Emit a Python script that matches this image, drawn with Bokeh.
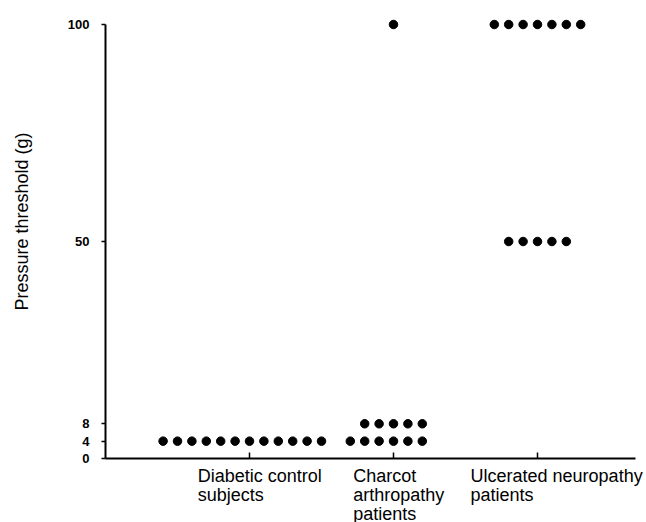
import math
from bokeh.plotting import figure
from bokeh.models import Range1d, FixedTicker, Label
from bokeh.embed import file_html
from bokeh.resources import INLINE

# ---- data ----
categories = ["Diabetic control subjects", "Charcot arthropathy patients", "Ulcerated neuropathy patients"]
category_labels = ["Diabetic control\nsubjects", "Charcot\narthropathy\npatients", "Ulcerated neuropathy\npatients"]
diabetic_thresholds = [4]
diabetic_counts = [12]
charcot_thresholds = [4, 8, 100]
charcot_counts = [6, 5, 1]
ulcerated_thresholds = [50, 100]
ulcerated_counts = [5, 7]
y_ticks = [0, 4, 8, 50, 100]
y_title = "Pressure threshold (g)"

# ---- layout / style ----
DOT_STEP = 0.1                                   # spacing between side-by-side dots (x units)
LABEL_SHIFT = [-0.36, -0.28, -0.465]             # left edge of each category label vs its tick
FONT = "Liberation Sans"
W, H = 646, 522
X0_PX, X_PPU, X_END = 105, 144, 3.68             # pixel of x=0, pixels per x unit, axis end
ZERO_PX, TOP_PX = 458, 24                        # pixel rows of y=0 and y=100
Y_PPU = (ZERO_PX - TOP_PX) / 100
LABEL_TOP = -7 / Y_PPU                           # top of category labels, under the axis
TITLE_X = -(X0_PX - 21) / X_PPU
TITLE_Y = (ZERO_PX - 221) / Y_PPU

groups = [
    (diabetic_thresholds, diabetic_counts),
    (charcot_thresholds, charcot_counts),
    (ulcerated_thresholds, ulcerated_counts),
]
xs, ys = [], []
for gi, (ths, cns) in enumerate(groups):
    for t, n in zip(ths, cns):
        for i in range(n):
            xs.append(gi + 1 + (i - n // 2) * DOT_STEP)
            ys.append(t)

cat_pos = [i + 1 for i in range(len(categories))]

p = figure(width=W, height=H,
           x_range=Range1d(-X0_PX / X_PPU, (W - X0_PX) / X_PPU),
           y_range=Range1d(-(H - ZERO_PX) / Y_PPU, ZERO_PX / Y_PPU),
           output_backend="svg", toolbar_location=None,
           min_border_left=0, min_border_right=0, min_border_top=0, min_border_bottom=0)
p.background_fill_color = "white"
p.border_fill_color = "white"
p.outline_line_color = None
p.xgrid.visible = False
p.ygrid.visible = False

p.scatter(xs, ys, size=8.5, color="black", line_color="black")

# y axis, drawn at x = 0
ya = p.yaxis[0]
ya.fixed_location = 0
ya.ticker = FixedTicker(ticks=y_ticks)
ya.bounds = (0, 100)
ya.axis_line_width = 2
ya.axis_line_color = "black"
ya.major_tick_out = 4
ya.major_tick_in = 0
ya.major_tick_line_width = 1.5
ya.minor_tick_line_color = None
ya.major_label_text_font = FONT
ya.major_label_text_font_size = "13px"
ya.major_label_text_font_style = "bold"
ya.major_label_text_color = "black"
ya.major_label_standoff = 12

# x axis, drawn at y = 0
xa = p.xaxis[0]
xa.fixed_location = 0
xa.ticker = FixedTicker(ticks=cat_pos)
xa.bounds = (0, X_END)
xa.axis_line_width = 2
xa.axis_line_color = "black"
xa.major_tick_in = 6
xa.major_tick_out = 0
xa.major_tick_line_width = 1.5
xa.minor_tick_line_color = None
xa.major_label_overrides = {c: "" for c in cat_pos}

p.add_layout(Label(x=TITLE_X, y=TITLE_Y, text=y_title, angle=math.pi / 2,
                   text_align="center", text_baseline="middle",
                   text_font=FONT, text_font_size="18px", text_color="black"))

for c, s, txt in zip(cat_pos, LABEL_SHIFT, category_labels):
    p.add_layout(Label(x=c + s, y=LABEL_TOP, text=txt,
                       text_align="left", text_baseline="top",
                       text_font=FONT, text_font_size="18px",
                       text_line_height=0.95, text_color="black"))

open("out.html", "w").write(file_html(p, INLINE))
